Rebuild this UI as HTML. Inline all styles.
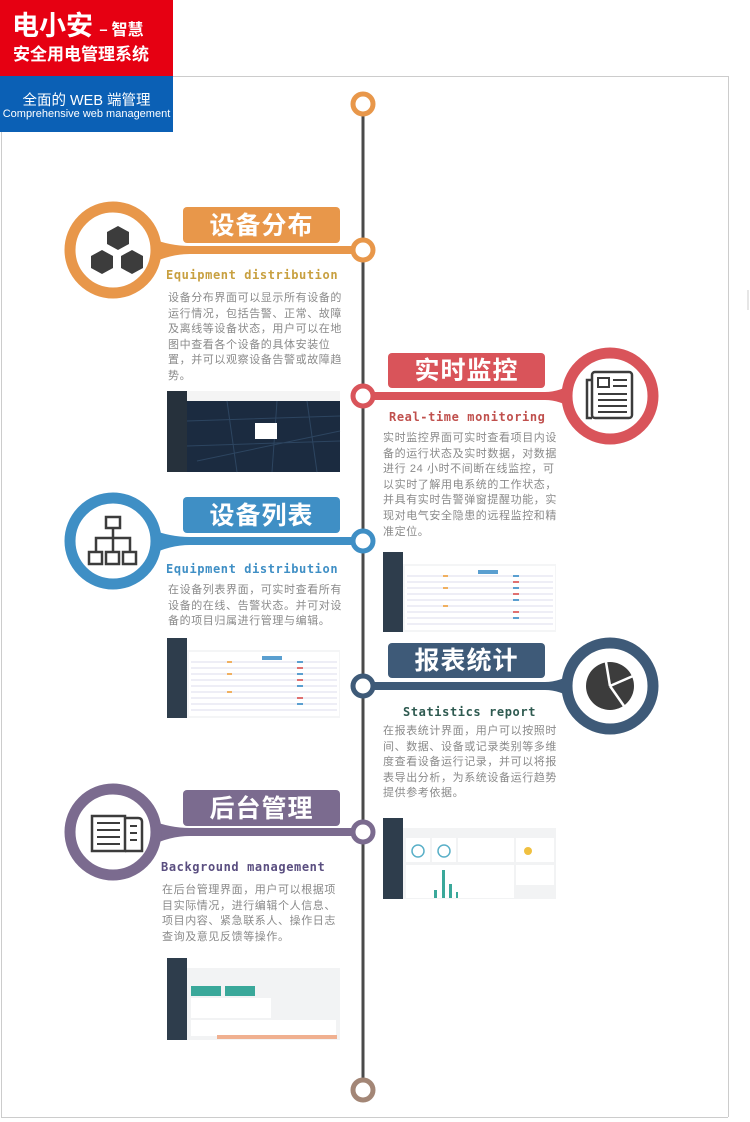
<!DOCTYPE html>
<html><head><meta charset="utf-8"><style>
body{margin:0;background:#fff;}
#p{position:relative;width:750px;height:1122px;overflow:hidden;font-family:"Liberation Sans","Noto Sans CJK SC",sans-serif;}
.t{position:absolute;font-size:11px;line-height:15.6px;color:#8a8a8a;letter-spacing:0.6px;white-space:nowrap;}
.en{position:absolute;font-family:"DejaVu Sans Mono","Liberation Mono",monospace;font-weight:bold;font-size:12px;letter-spacing:0.6px;white-space:nowrap;}
.lb{position:absolute;color:#fff;font-size:25px;font-weight:bold;text-align:center;border-radius:4px;font-family:"Noto Sans CJK SC",sans-serif;letter-spacing:1px;}
</style></head><body><div id="p">
<svg width="750" height="1122" style="position:absolute;left:0;top:0">
<defs>
<g id="shotW">
<rect x="0" y="0" width="173" height="80" fill="#f4f5f6"/>
<rect x="0" y="0" width="20" height="80" fill="#2e3d4c"/>
<rect x="20" y="0" width="153" height="12" fill="#fff"/>
<rect x="22" y="14" width="150" height="64" fill="#fff"/>
<g stroke="#dde" stroke-width="1">
<line x1="24" y1="24" x2="170" y2="24"/><line x1="24" y1="30" x2="170" y2="30"/><line x1="24" y1="36" x2="170" y2="36"/><line x1="24" y1="42" x2="170" y2="42"/><line x1="24" y1="48" x2="170" y2="48"/><line x1="24" y1="54" x2="170" y2="54"/><line x1="24" y1="60" x2="170" y2="60"/><line x1="24" y1="66" x2="170" y2="66"/><line x1="24" y1="72" x2="170" y2="72"/>
</g>
<g fill="#5a9fd0"><rect x="130" y="23" width="6" height="2"/><rect x="130" y="35" width="6" height="2"/><rect x="130" y="47" width="6" height="2"/><rect x="130" y="65" width="6" height="2"/><rect x="95" y="18" width="20" height="4"/></g>
<g fill="#e07070"><rect x="130" y="29" width="6" height="2"/><rect x="130" y="41" width="6" height="2"/><rect x="130" y="59" width="6" height="2"/></g>
<g fill="#f0b060"><rect x="60" y="23" width="5" height="2"/><rect x="60" y="35" width="5" height="2"/><rect x="60" y="53" width="5" height="2"/></g>
</g>
</defs>
<line x1="173" y1="76.5" x2="728" y2="76.5" stroke="#ccc"/>
<line x1="728.5" y1="76" x2="728.5" y2="1117" stroke="#ccc"/>
<line x1="1.5" y1="132" x2="1.5" y2="1117" stroke="#ccc"/>
<line x1="1" y1="1117.5" x2="728" y2="1117.5" stroke="#ccc"/>
<line x1="748" y1="290" x2="748" y2="310" stroke="#ccc"/>
<rect x="0" y="0" width="173" height="76" fill="#e60012"/>
<rect x="0" y="76" width="173" height="56" fill="#0b60b5"/>
<line x1="363" y1="112" x2="363" y2="1082" stroke="#4a4a4a" stroke-width="3"/>
<circle cx="363" cy="104" r="10" fill="#fff" stroke="#e8974a" stroke-width="5"/>
<circle cx="363" cy="1090" r="10" fill="#fff" stroke="#a38676" stroke-width="5"/>

<path d="M150 238 Q170 246 190 246 L355 246 L355 254 L190 254 Q170 254 150 264Z" fill="#e8974a"/>
<circle cx="113" cy="250" r="43" fill="#fff" stroke="#e8974a" stroke-width="11"/>
<circle cx="363" cy="250" r="10" fill="#fff" stroke="#e8974a" stroke-width="5"/>
<g fill="#3c3c3c">
<polygon points="118,226 129,232 129,244 118,250 107,244 107,232"/>
<polygon points="102,250 113,256 113,268 102,274 91,268 91,256"/>
<polygon points="132,250 143,256 143,268 132,274 121,268 121,256"/>
</g>
<path d="M372 392 L545 392 Q560 392 575 382 L575 410 Q560 400 545 400 L372 400Z" fill="#d9545a"/>
<circle cx="363" cy="396" r="10" fill="#fff" stroke="#d9545a" stroke-width="5"/>
<circle cx="610" cy="396" r="43" fill="#fff" stroke="#d9545a" stroke-width="11"/>
<g fill="none" stroke="#3c3c3c" stroke-width="2.5">
<rect x="592" y="372" width="40" height="46" rx="3"/>
<path d="M592 380 L587 380 L587 418 L592 418"/>
</g>
<g stroke="#3c3c3c" stroke-width="2"><rect x="598" y="378" width="11" height="9" fill="none"/>
<line x1="613" y1="380" x2="627" y2="380"/><line x1="613" y1="386" x2="627" y2="386"/><line x1="598" y1="394" x2="627" y2="394"/><line x1="598" y1="400" x2="627" y2="400"/><line x1="598" y1="406" x2="627" y2="406"/><line x1="598" y1="412" x2="627" y2="412"/></g>
<path d="M150 529 Q170 537 190 537 L355 537 L355 545 L190 545 Q170 545 150 555Z" fill="#3f8fc5"/>
<circle cx="113" cy="541" r="43" fill="#fff" stroke="#3f8fc5" stroke-width="11"/>
<circle cx="363" cy="541" r="10" fill="#fff" stroke="#3f8fc5" stroke-width="5"/>
<g fill="none" stroke="#3c3c3c" stroke-width="2.5">
<rect x="106" y="517" width="14" height="11"/>
<line x1="113" y1="528" x2="113" y2="538"/>
<path d="M96 552 L96 538 L130 538 L130 552"/>
<rect x="89" y="552" width="13" height="12"/><rect x="106" y="552" width="13" height="12"/><rect x="123" y="552" width="13" height="12"/>
<line x1="113" y1="538" x2="113" y2="552"/>
</g>
<path d="M372 682 L545 682 Q560 682 575 672 L575 700 Q560 690 545 690 L372 690Z" fill="#3e5a78"/>
<circle cx="363" cy="686" r="10" fill="#fff" stroke="#3e5a78" stroke-width="5"/>
<circle cx="610" cy="686" r="43" fill="#fff" stroke="#3e5a78" stroke-width="11"/>
<circle cx="610" cy="686" r="24" fill="#3c3c3c"/>
<g stroke="#fff" stroke-width="2.5"><line x1="610" y1="686" x2="606" y2="662"/><line x1="610" y1="686" x2="633" y2="676"/><line x1="610" y1="686" x2="624" y2="706"/></g>
<path d="M150 820 Q170 828 190 828 L355 828 L355 836 L190 836 Q170 836 150 846Z" fill="#7b6b8f"/>
<circle cx="113" cy="832" r="43" fill="#fff" stroke="#7b6b8f" stroke-width="11"/>
<circle cx="363" cy="832" r="10" fill="#fff" stroke="#7b6b8f" stroke-width="5"/>
<g fill="none" stroke="#3c3c3c" stroke-width="2.5">
<path d="M92 816 L125 816 L125 851 L92 851Z"/>
<path d="M125 818 L138 818 Q142 818 142 822 L142 851 L125 851"/>
</g>
<g stroke="#3c3c3c" stroke-width="2"><line x1="97" y1="823" x2="120" y2="823"/><line x1="97" y1="830" x2="120" y2="830"/><line x1="97" y1="837" x2="120" y2="837"/><line x1="97" y1="844" x2="120" y2="844"/>
<line x1="130" y1="826" x2="137" y2="826"/><line x1="130" y1="833" x2="137" y2="833"/><line x1="130" y1="840" x2="137" y2="840"/></g>

<g transform="translate(167,391)">
<rect width="173" height="81" fill="#1b2b40"/>
<rect width="20" height="81" fill="#26313c"/>
<rect x="20" width="153" height="10" fill="#f4f4f4"/>
<g stroke="#2d4560" stroke-width="1"><path d="M20 30 L173 25 M20 55 L173 50 M60 10 L70 81 M110 10 L105 81 M140 10 L150 81 M30 70 L173 40"/></g>
<rect x="88" y="32" width="22" height="16" fill="#fff"/>
</g>
<g transform="translate(383,552)"><use href="#shotW"/></g>
<g transform="translate(167,638)"><use href="#shotW"/></g>
<g transform="translate(383,818)">
<rect width="173" height="81" fill="#f2f3f4"/>
<rect width="20" height="81" fill="#2e3d4c"/>
<rect x="20" width="153" height="10" fill="#fff"/>
<rect x="23" y="20" width="24" height="24" fill="#fff"/><rect x="49" y="20" width="24" height="24" fill="#fff"/><rect x="75" y="20" width="56" height="24" fill="#fff"/><rect x="133" y="20" width="38" height="24" fill="#fff"/>
<circle cx="35" cy="33" r="6" fill="none" stroke="#5ab0c8" stroke-width="1.5"/><circle cx="61" cy="33" r="6" fill="none" stroke="#5ab0c8" stroke-width="1.5"/>
<circle cx="145" cy="33" r="4" fill="#f0c040"/>
<rect x="23" y="47" width="108" height="33" fill="#fff"/><rect x="133" y="47" width="38" height="20" fill="#fff"/>
<rect x="59" y="52" width="3" height="28" fill="#3aa89a"/><rect x="66" y="66" width="3" height="14" fill="#3aa89a"/><rect x="51" y="72" width="3" height="8" fill="#3aa89a"/><rect x="73" y="74" width="2" height="6" fill="#3aa89a"/>
</g>
<g transform="translate(167,958)">
<rect width="173" height="82" fill="#f2f3f4"/>
<rect width="20" height="82" fill="#2e3d4c"/>
<rect x="20" width="153" height="10" fill="#fff"/>
<rect x="24" y="28" width="30" height="10" fill="#3aa89a"/><rect x="58" y="28" width="30" height="10" fill="#3aa89a"/>
<rect x="24" y="40" width="80" height="20" fill="#fff"/><rect x="24" y="62" width="145" height="16" fill="#fff"/>
<rect x="50" y="77" width="120" height="4" fill="#f0b090"/>
</g>
</svg>

<div style="position:absolute;left:12px;top:4px;color:#fff;font-weight:bold;font-size:27px;font-family:'Noto Sans CJK SC',sans-serif;white-space:nowrap">电小安 <span style="font-size:16px">– 智慧</span></div>
<div style="position:absolute;left:13px;top:40px;color:#fff;font-weight:bold;font-size:17px;font-family:'Noto Sans CJK SC',sans-serif;white-space:nowrap">安全用电管理系统</div>
<div style="position:absolute;left:0;width:173px;top:89px;text-align:center;color:#fff;font-size:14.5px;white-space:nowrap">全面的 WEB 端管理</div>
<div style="position:absolute;left:0;width:173px;top:108px;text-align:center;color:#fff;font-size:11px;white-space:nowrap">Comprehensive web management</div>

<div class="lb" style="left:183px;top:207px;width:157px;height:36px;line-height:34px;background:#e8974a">设备分布</div>
<div class="en" style="left:166px;top:268px;color:#c8a040">Equipment distribution</div>
<div class="t" style="left:168px;top:291px">设备分布界面可以显示所有设备的<br>运行情况，包括告警、正常、故障<br>及离线等设备状态，用户可以在地<br>图中查看各个设备的具体安装位<br>置，并可以观察设备告警或故障趋<br>势。</div>

<div class="lb" style="left:388px;top:353px;width:157px;height:35px;line-height:33px;background:#d9545a">实时监控</div>
<div class="en" style="left:389px;top:410px;color:#c0504d">Real-time monitoring</div>
<div class="t" style="left:383px;top:431px">实时监控界面可实时查看项目内设<br>备的运行状态及实时数据，对数据<br>进行 24 小时不间断在线监控，可<br>以实时了解用电系统的工作状态，<br>并具有实时告警弹窗提醒功能，实<br>现对电气安全隐患的远程监控和精<br>准定位。</div>

<div class="lb" style="left:183px;top:497px;width:157px;height:36px;line-height:34px;background:#3f8fc5">设备列表</div>
<div class="en" style="left:166px;top:562px;color:#3f8fc5">Equipment distribution</div>
<div class="t" style="left:168px;top:583px">在设备列表界面，可实时查看所有<br>设备的在线、告警状态。并可对设<br>备的项目归属进行管理与编辑。</div>

<div class="lb" style="left:388px;top:643px;width:157px;height:35px;line-height:33px;background:#3e5a78">报表统计</div>
<div class="en" style="left:403px;top:705px;color:#2e5a50">Statistics report</div>
<div class="t" style="left:383px;top:724px">在报表统计界面，用户可以按照时<br>间、数据、设备或记录类别等多维<br>度查看设备运行记录，并可以将报<br>表导出分析，为系统设备运行趋势<br>提供参考依据。</div>

<div class="lb" style="left:183px;top:790px;width:157px;height:36px;line-height:34px;background:#7b6b8f">后台管理</div>
<div class="en" style="left:161px;top:860px;color:#5a4e80">Background management</div>
<div class="t" style="left:162px;top:883px">在后台管理界面，用户可以根据项<br>目实际情况，进行编辑个人信息、<br>项目内容、紧急联系人、操作日志<br>查询及意见反馈等操作。</div>
</div></body></html>
